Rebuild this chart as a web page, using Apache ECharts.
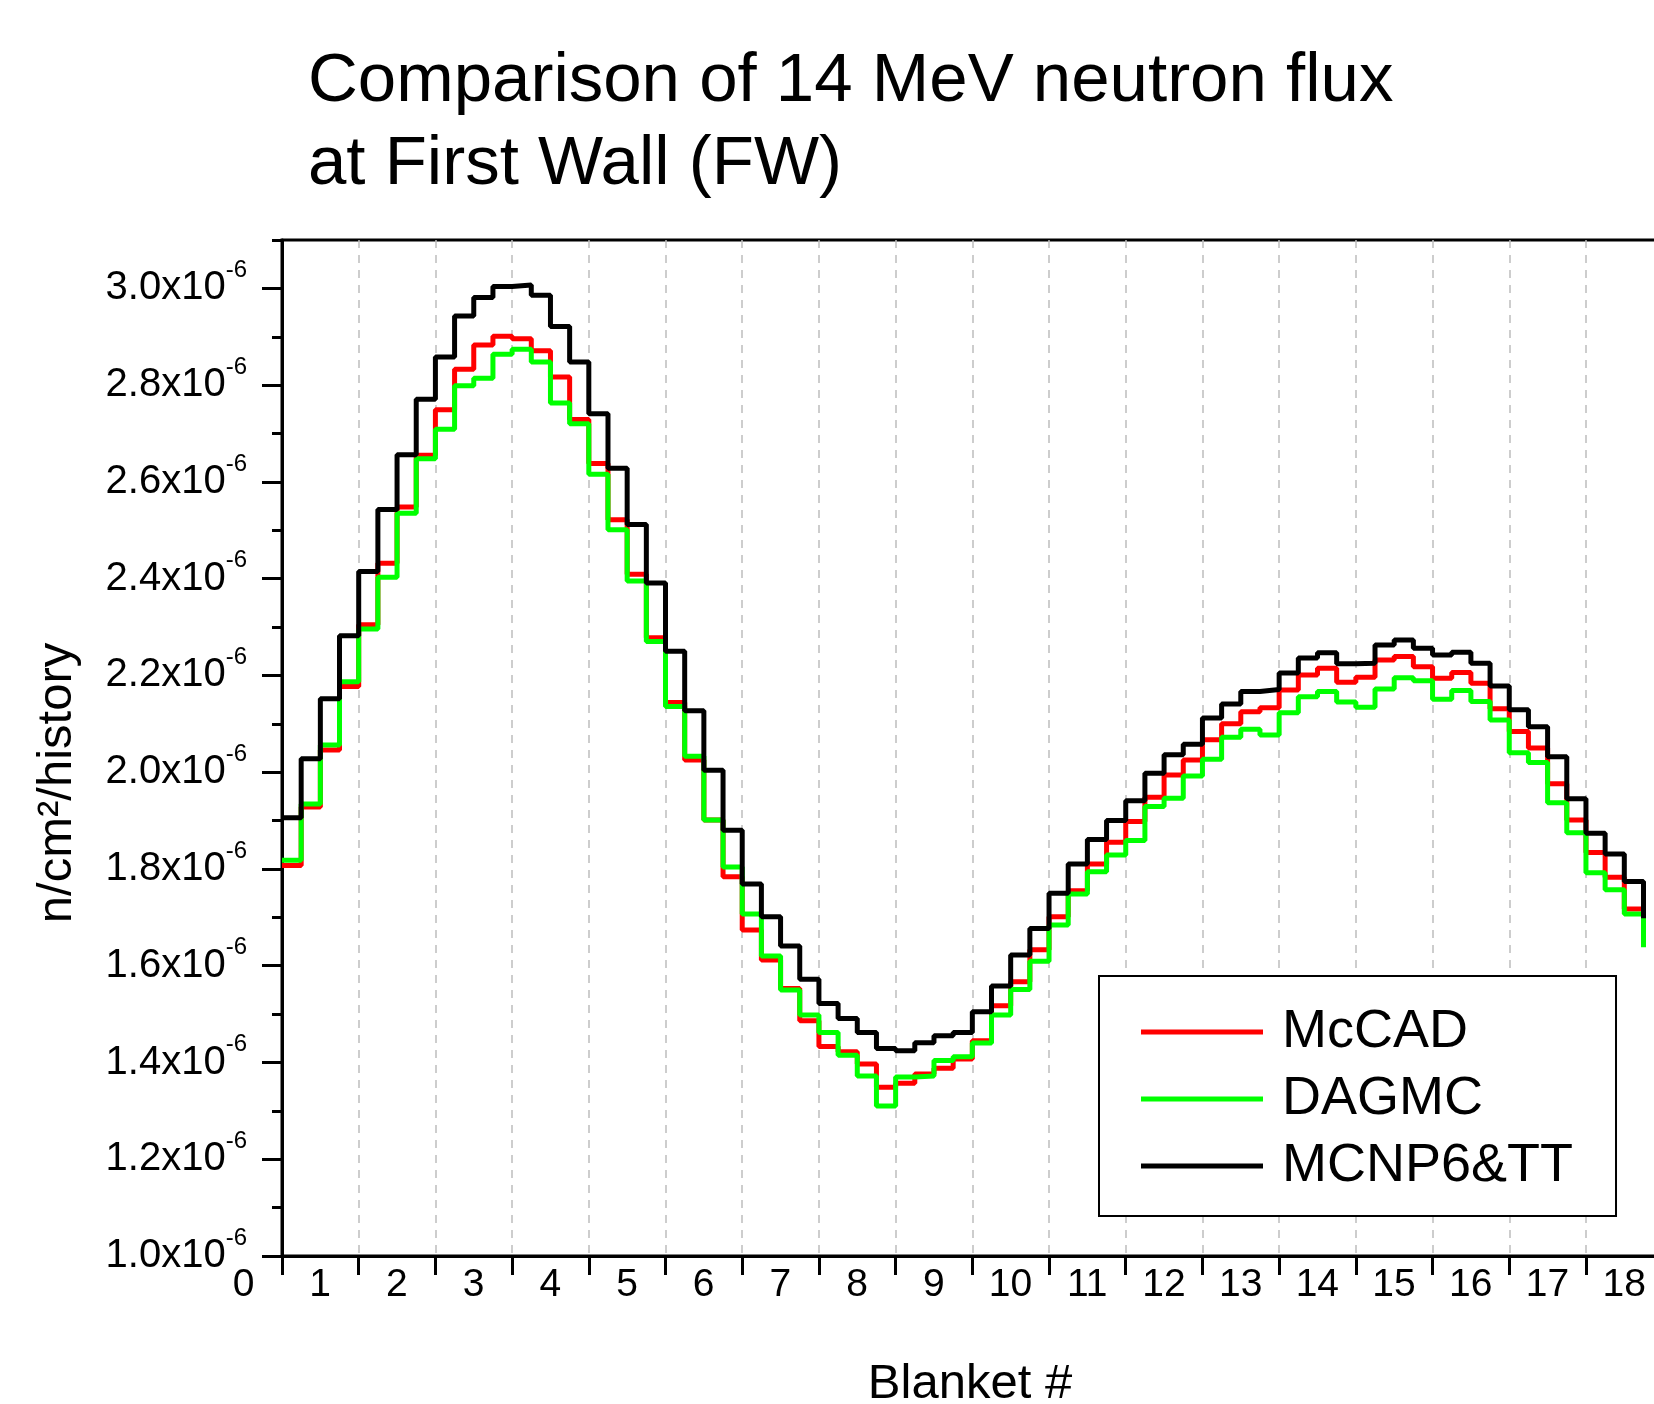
<!DOCTYPE html>
<html>
<head>
<meta charset="utf-8">
<script src="https://cdn.jsdelivr.net/npm/echarts@6/dist/echarts.min.js"></script>
<style>
  html, body { margin: 0; padding: 0; background: #fff; }
  #chart { width: 1654px; height: 1404px; }
</style>
</head>
<body>
<div id="chart"></div>
<script>
// Flux values in units of 1e-6 n/cm^2/history, one per quarter-blanket bin (start x = index * binWidth)
const binWidth = 0.25;
const mcCAD = [
  1.807, 1.928, 2.046, 2.177, 2.305, 2.432, 2.548, 2.655, 2.749, 2.833, 2.883, 2.901,
  2.896, 2.871, 2.817, 2.729, 2.638, 2.522, 2.409, 2.278, 2.144, 2.025, 1.901, 1.784,
  1.674, 1.612, 1.553, 1.486, 1.433, 1.422, 1.397, 1.349, 1.357, 1.376, 1.388, 1.407,
  1.445, 1.517, 1.567, 1.633, 1.701, 1.755, 1.810, 1.855, 1.898, 1.948, 1.994, 2.025,
  2.067, 2.100, 2.125, 2.133, 2.170, 2.201, 2.215, 2.186, 2.196, 2.232, 2.239, 2.218,
  2.194, 2.206, 2.184, 2.131, 2.084, 2.050, 1.976, 1.901, 1.834, 1.783, 1.717, 1.690
];
const dagMC = [
  1.818, 1.934, 2.056, 2.187, 2.296, 2.403, 2.535, 2.648, 2.709, 2.799, 2.814, 2.864,
  2.874, 2.848, 2.763, 2.720, 2.616, 2.501, 2.395, 2.270, 2.136, 2.033, 1.901, 1.804,
  1.707, 1.620, 1.550, 1.498, 1.462, 1.415, 1.372, 1.310, 1.370, 1.372, 1.404, 1.412,
  1.440, 1.498, 1.551, 1.609, 1.684, 1.748, 1.794, 1.829, 1.859, 1.929, 1.946, 1.992,
  2.027, 2.072, 2.089, 2.077, 2.123, 2.156, 2.167, 2.145, 2.134, 2.172, 2.195, 2.189,
  2.151, 2.169, 2.146, 2.108, 2.040, 2.020, 1.937, 1.875, 1.792, 1.757, 1.707, 1.638
];
const mcnp6TT = [
  1.906, 2.028, 2.152, 2.282, 2.415, 2.543, 2.656, 2.771, 2.858, 2.943, 2.981, 3.004,
  3.007, 2.986, 2.921, 2.848, 2.741, 2.628, 2.512, 2.391, 2.250, 2.127, 2.004, 1.880,
  1.769, 1.701, 1.641, 1.572, 1.522, 1.491, 1.462, 1.429, 1.424, 1.441, 1.455, 1.462,
  1.505, 1.558, 1.622, 1.677, 1.750, 1.810, 1.861, 1.900, 1.941, 1.998, 2.036, 2.058,
  2.112, 2.141, 2.167, 2.171, 2.205, 2.236, 2.247, 2.224, 2.225, 2.263, 2.273, 2.256,
  2.242, 2.248, 2.225, 2.178, 2.129, 2.094, 2.032, 1.945, 1.874, 1.831, 1.774, 1.698
];
const seriesNames = ['McCAD', 'DAGMC', 'MCNP6&TT'];
const yMajorTicks = [1.0, 1.2, 1.4, 1.6, 1.8, 2.0, 2.2, 2.4, 2.6, 2.8, 3.0];
const yMinorTicks = [1.1, 1.3, 1.5, 1.7, 1.9, 2.1, 2.3, 2.5, 2.7, 2.9, 3.1];

const toPairs = arr => arr.map((v, i) => [i * binWidth, v]);
const FONT = '"Liberation Sans", Arial, Helvetica, sans-serif';

const chart = echarts.init(document.getElementById('chart'), null, { renderer: 'canvas' });
chart.setOption({
  backgroundColor: '#ffffff',
  animation: false,
  title: {
    text: 'Comparison of 14 MeV neutron flux\nat First Wall (FW)',
    left: 308, top: 40, padding: 0,
    textStyle: { fontFamily: FONT, fontSize: 69, fontWeight: 'normal', color: '#000', lineHeight: 83 }
  },
  legend: {
    orient: 'vertical',
    left: 1099, top: 976,
    padding: [29, 43, 23, 42],
    backgroundColor: '#fff',
    borderColor: '#000', borderWidth: 2,
    icon: 'rect', itemWidth: 122, itemHeight: 5, itemGap: 13,
    textStyle: { fontFamily: FONT, fontSize: 54, color: '#000', lineHeight: 54, padding: [0, 0, 0, 14] },
    data: seriesNames
  },
  grid: {
    left: 282, top: 240, width: 1396, height: 1016,
    containLabel: false, outerBoundsMode: 'none',
    show: true, borderColor: '#000', borderWidth: 3, backgroundColor: 'transparent'
  },
  xAxis: {
    type: 'value', min: 0, max: 18.2, interval: 1,
    name: 'Blanket #', nameLocation: 'middle', nameGap: 104,
    nameTextStyle: { fontFamily: FONT, fontSize: 49, color: '#000', padding: [0, 20, 0, 0] },
    axisLine: { show: true, onZero: false, lineStyle: { color: '#000', width: 3 } },
    axisTick: { show: true, inside: false, length: 19, lineStyle: { color: '#000', width: 3 } },
    axisLabel: {
      fontFamily: FONT, fontSize: 39, color: '#000', margin: 10,
      padding: [0, 77, 0, 0], hideOverlap: false,
      formatter: v => (Math.abs(v - Math.round(v)) < 1e-9 && v <= 18) ? String(Math.round(v)) : ''
    },
    splitLine: { show: true, lineStyle: { color: '#bdbdbd', width: 1.5, type: [8, 7] } }
  },
  yAxis: [
    {
      type: 'value', min: 1.0, max: 3.1, position: 'left',
      name: 'n/cm²/history', nameLocation: 'middle', nameGap: 200, nameRotate: 90,
      nameTextStyle: { fontFamily: FONT, fontSize: 49, color: '#000', padding: [0, 70, 0, 0] },
      axisLine: { show: true, lineStyle: { color: '#000', width: 3 } },
      axisTick: { show: true, inside: false, length: 20, lineStyle: { color: '#000', width: 3 }, customValues: yMajorTicks },
      axisLabel: {
        customValues: yMajorTicks,
        margin: 35,
        formatter: v => '{b|' + v.toFixed(1) + 'x10}{s|-6}',
        rich: {
          b: { fontFamily: FONT, fontSize: 40, color: '#000', lineHeight: 60 },
          s: { fontFamily: FONT, fontSize: 24, color: '#000', lineHeight: 24, verticalAlign: 'top' }
        }
      },
      splitLine: { show: false }
    },
    {
      type: 'value', min: 1.0, max: 3.1, position: 'left',
      axisLine: { show: false },
      axisTick: { show: true, inside: false, length: 10, lineStyle: { color: '#000', width: 3 }, customValues: yMinorTicks },
      axisLabel: { show: false },
      splitLine: { show: false }
    }
  ],
  series: [
    { name: seriesNames[0], type: 'line', step: 'end', data: toPairs(mcCAD), symbol: 'none',
      lineStyle: { color: '#ff0000', width: 5 }, itemStyle: { color: '#ff0000' }, z: 2 },
    { name: seriesNames[1], type: 'line', step: 'end', data: toPairs(dagMC), symbol: 'none',
      lineStyle: { color: '#00ff00', width: 5 }, itemStyle: { color: '#00ff00' }, z: 3 },
    { name: seriesNames[2], type: 'line', step: 'end', data: toPairs(mcnp6TT), symbol: 'none',
      lineStyle: { color: '#000000', width: 5 }, itemStyle: { color: '#000000' }, z: 4 }
  ]
});
</script>
</body>
</html>
